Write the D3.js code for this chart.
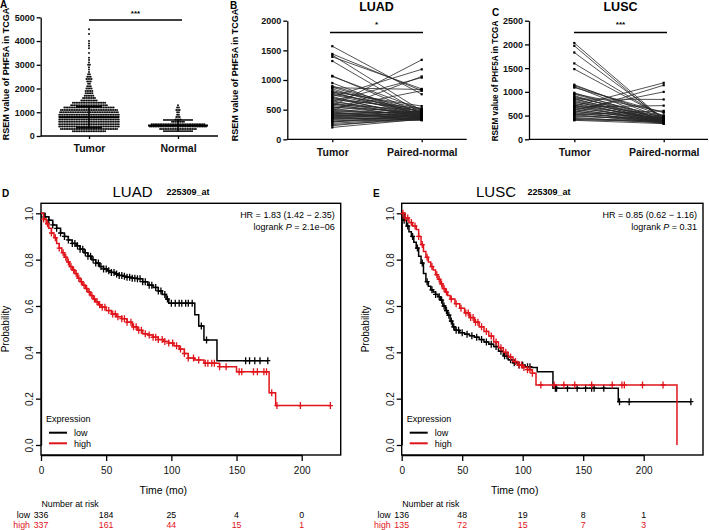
<!DOCTYPE html>
<html><head><meta charset="utf-8">
<script src="https://cdn.jsdelivr.net/npm/d3@7"></script>
<style>body{margin:0;background:#fff}svg{display:block}</style>
</head><body>
<svg id="c" width="709" height="530"></svg>
<script>
// ---------------- DATA ----------------
const groupsA = ["Tumor", "Normal"];
const groupsPaired = ["Tumor", "Paired-normal"];
const ticksA = [0, 1000, 2000, 3000, 4000, 5000];
const ticksB = [0, 500, 1000, 1500, 2000];
const ticksC = [0, 500, 1000, 1500, 2000, 2500];

// Panel A: dot-plot rows (value bin, number of dots in that row)
const tumorBinValues = [200,300,400,500,600,700,800,900,1000,1100,1200,1300,1400,1500,1600,1700,1800,1900,2000,2100,2200,2300,2400,2500,2600,2700,2800,2900,3000,3100,3200,3300,3500,3700,3800,3900,4000,4300,4500];
const tumorBinCounts = [20,34,36,36,36,36,36,36,35,34,30,22,20,10,8,6,5,5,4,3,2,3,4,3,2,1,1,1,2,1,1,1,1,1,1,1,1,1,1];
const normalBinValues = [300,400,500,600,700,800,900,1000,1100,1200,1300];
const normalBinCounts = [22,34,32,8,4,3,2,2,3,2,1];
const tumorMean = 790, tumorSD = 445;
const normalMean = 440, normalSD = 235;

// Panel B: LUAD paired samples [tumor, paired-normal]
const luadPairs = [
 [1570,760],[1440,820],[1420,480],[1390,850],[1320,440],[1070,430],[1060,500],[950,380],
 [560,1340],[720,1180],[480,1060],[640,1040],[870,840],[520,820],[800,560],[760,500],
 [900,450],[880,420],[850,400],[820,520],[800,380],[780,460],[750,430],[720,350],[700,480],
 [690,400],[670,520],[650,370],[630,450],[610,410],[600,340],[590,490],[570,430],[550,390],
 [540,460],[520,350],[500,420],[490,380],[470,440],[460,330],[450,400],[440,360],[430,470],
 [420,390],[410,340],[400,420],[390,370],[380,450],[370,330],[360,400],[350,350],[340,380],
 [330,320],[310,360],[300,340],[290,410],[270,350],[250,330],[230,370],[200,340]
];
// Panel C: LUSC paired samples [tumor, paired-normal]
const luscPairs = [
 [2030,410],[1970,380],[1830,430],[1600,460],[1480,470],[1150,440],[1130,500],[1110,380],[1090,560],
 [700,1190],[560,1140],[620,1000],[850,840],[680,710],[520,600],[960,580],
 [980,400],[950,450],[920,370],[900,420],[880,500],[860,360],[840,440],[820,400],[800,350],
 [780,480],[760,390],[740,420],[720,340],[700,460],[680,380],[660,430],[640,360],[620,400],
 [600,330],[580,450],[560,370],[540,410],[520,350],[500,390],[480,430],[460,340],[440,380],
 [420,360],[410,400],[400,330]
];

// KM panels
const kmTicksX = [0, 50, 100, 150, 200];
const kmTicksY = [0, 0.2, 0.4, 0.6, 0.8, 1.0];
// LUAD low  [time, survival]
const luadLow = [[0,1],[3,0.985],[6,0.97],[9,0.95],[12,0.935],[15,0.915],[18,0.9],[21,0.885],[24,0.87],[27,0.86],[30,0.845],[33,0.83],[36,0.815],[39,0.8],[42,0.785],[45,0.77],[48,0.76],[51,0.752],[54,0.745],[57,0.738],[60,0.732],[63,0.728],[66,0.724],[70,0.72],[74,0.718],[78,0.705],[82,0.69],[86,0.68],[90,0.665],[93,0.65],[96,0.63],[98,0.612],[118,0.562],[121,0.514],[125,0.453],[135,0.364],[174,0.364]];
const luadLowCens = [3,6,9,12,15,18,21,24,26,28,30,32,34,36,38,40,42,44,46,48,50,52,54,56,58,60,62,64,66,68,70,72,74,76,78,80,83,85,88,90,92,95,97,100,103,106,108,111,113,116,123,127,157,160,164,168,174];
const luadHigh = [[0,1],[2,0.975],[4,0.955],[6,0.935],[8,0.915],[10,0.895],[12,0.87],[14,0.85],[16,0.83],[18,0.81],[20,0.79],[22,0.77],[24,0.755],[26,0.74],[28,0.72],[30,0.705],[32,0.69],[34,0.675],[36,0.66],[38,0.645],[40,0.63],[42,0.618],[44,0.605],[46,0.595],[50,0.58],[54,0.565],[58,0.554],[62,0.545],[66,0.53],[70,0.51],[74,0.495],[78,0.48],[82,0.475],[86,0.465],[90,0.455],[94,0.447],[98,0.44],[102,0.428],[106,0.414],[110,0.395],[113,0.375],[118,0.367],[125,0.353],[137,0.338],[150,0.316],[175,0.226],[180,0.17],[222,0.17]];
const luadHighCens = [2,5,8,11,14,17,19,21,23,25,27,29,31,33,35,37,39,41,43,45,47,49,52,55,57,59,62,64,66,69,71,73,75,77,80,83,86,88,90,93,95,98,101,104,107,110,113,117,121,126,128,131,133,137,142,152,154,163,166,171,173,177,181,199,222];
const luadRiskLow = [336,184,25,4,0];
const luadRiskHigh = [337,161,44,15,1];

// LUSC
const luscLow = [[0,1],[2,0.97],[4,0.945],[6,0.92],[8,0.9],[10,0.875],[12,0.85],[14,0.815],[16,0.785],[18,0.74],[20,0.705],[22,0.685],[24,0.67],[26,0.66],[28,0.65],[30,0.64],[32,0.625],[34,0.6],[36,0.58],[38,0.56],[40,0.535],[42,0.51],[44,0.495],[48,0.485],[52,0.478],[56,0.472],[60,0.465],[64,0.455],[68,0.445],[72,0.435],[76,0.425],[80,0.405],[84,0.385],[88,0.368],[92,0.355],[96,0.345],[102,0.338],[107,0.335],[112,0.316],[125,0.245],[179,0.187],[239,0.187]];
const luscLowCens = [2,5,9,13,17,21,25,28,31,33,35,37,39,41,43,45,47,50,54,58,62,66,70,74,78,82,85,87,90,93,97,100,104,106,127,128,137,145,152,157,159,167,180,188,239];
const luscHigh = [[0,1],[3,0.98],[6,0.96],[9,0.945],[12,0.93],[14,0.9],[16,0.865],[18,0.835],[20,0.81],[22,0.79],[24,0.77],[26,0.755],[28,0.735],[30,0.715],[32,0.695],[34,0.675],[36,0.66],[38,0.645],[40,0.63],[44,0.61],[48,0.59],[52,0.57],[56,0.55],[60,0.53],[64,0.51],[68,0.49],[72,0.47],[76,0.445],[80,0.42],[84,0.4],[88,0.38],[92,0.36],[96,0.345],[100,0.335],[104,0.325],[108,0.31],[111,0.259],[227.5,0]];
const luscHighCens = [1,3,5,8,11,14,17,21,25,29,31,33,35,37,41,45,49,53,55,57,59,61,63,66,70,74,78,82,86,90,94,97,99,101,104,106,108,115,126,134,143,157,174,182,184,199,216];
const luscRiskLow = [136,48,19,8,1];
const luscRiskHigh = [135,72,15,7,3];

// ---------------- DRAWING ----------------
const FONT = "'Liberation Sans', Arial, Helvetica, sans-serif";
const RED = "#e0141b";
const svg = d3.select("#c").style("font-family", FONT);

function letter(t, x, y) {
  svg.append("text").attr("x", x).attr("y", y).text(t)
    .attr("font-size", 10).attr("font-weight", "bold");
}

function styleBoldAxis(g, fs) {
  g.select(".domain").attr("stroke", "#000").attr("stroke-width", 1.3);
  g.selectAll(".tick line").attr("stroke", "#000").attr("stroke-width", 1.3);
  g.selectAll(".tick text").attr("font-size", fs).attr("font-weight", "bold")
    .attr("font-family", FONT).attr("fill", "#111");
}

function catAxis(xScale, x0, x1, yBase, labelY) {
  svg.append("line").attr("x1", x0).attr("x2", x1).attr("y1", yBase).attr("y2", yBase)
    .attr("stroke", "#000").attr("stroke-width", 1.3);
  const g = svg.append("g").attr("transform", `translate(0,${yBase})`)
    .call(d3.axisBottom(xScale).tickSize(3).tickSizeOuter(0));
  g.select(".domain").remove();
  styleBoldAxis(g, 10.5);
  g.selectAll(".tick text").attr("y", labelY - yBase).attr("dy", 0);
}

function ylabelBold(x, y, fs) {
  svg.append("text").attr("transform", `translate(${x},${y}) rotate(-90)`)
    .attr("text-anchor", "middle").attr("font-size", fs).attr("font-weight", "bold")
    .text("RSEM value of PHF5A in TCGA");
}

function sig(x0, x1, y, stars, sy) {
  svg.append("line").attr("x1", x0).attr("x2", x1).attr("y1", y).attr("y2", y)
    .attr("stroke", "#000").attr("stroke-width", 1.4);
  svg.append("text").attr("x", (x0 + x1) / 2).attr("y", sy).attr("text-anchor", "middle")
    .attr("font-size", 8).attr("font-weight", "bold").text(stars);
}

// ---- Panel A ----
{
  const y = d3.scaleLinear().domain([0, 5000]).range([136, 17.3]);
  const x = d3.scalePoint().domain(groupsA).range([89, 178]);
  const ga = svg.append("g").attr("transform", "translate(40.7,0)")
    .call(d3.axisLeft(y).tickValues(ticksA).tickSize(4).tickSizeOuter(0).tickPadding(2).tickFormat(d3.format("d")));
  styleBoldAxis(ga, 9);
  catAxis(x, 40.7, 218, 136, 152);
  const dots = svg.append("g").attr("fill", "#111");
  function swarm(cx, vals, counts) {
    vals.forEach((v, i) => {
      const n = counts[i];
      for (let k = 0; k < n; k++) {
        dots.append("circle").attr("cx", cx + (k - (n - 1) / 2) * 1.7).attr("cy", y(v)).attr("r", 1.0);
      }
    });
  }
  swarm(x("Tumor"), tumorBinValues, tumorBinCounts);
  swarm(x("Normal"), normalBinValues, normalBinCounts);
  function meanSD(cx, m, sd, mw, cw) {
    const g = svg.append("g").attr("stroke", "#000");
    g.append("line").attr("x1", cx - mw).attr("x2", cx + mw).attr("y1", y(m)).attr("y2", y(m)).attr("stroke-width", 2);
    g.append("line").attr("x1", cx).attr("x2", cx).attr("y1", y(m - sd)).attr("y2", y(m + sd)).attr("stroke-width", 1.5);
    [m - sd, m + sd].forEach(v => g.append("line").attr("x1", cx - cw).attr("x2", cx + cw)
      .attr("y1", y(v)).attr("y2", y(v)).attr("stroke-width", 1.5));
  }
  meanSD(x("Tumor"), tumorMean, tumorSD, 30, 13);
  meanSD(x("Normal"), normalMean, normalSD, 30, 15);
  sig(89, 182, 20, "***", 16);
  ylabelBold(8.5, 74, 9);
  letter("A", 0, 8);
}

// ---- Paired panels ----
function pairedPanel(pairs, domMax, ticks, axisX, xEnd, xT, xN, title, stars, sigX0, sigX1, ylx, yly, ylfs, let, letX, letY) {
  const y = d3.scaleLinear().domain([0, domMax]).range([139.3, 20.7]);
  const x = d3.scalePoint().domain(groupsPaired).range([xT, xN]);
  const ga = svg.append("g").attr("transform", `translate(${axisX},0)`)
    .call(d3.axisLeft(y).tickValues(ticks).tickSize(4).tickSizeOuter(0).tickPadding(2).tickFormat(d3.format("d")));
  styleBoldAxis(ga, 9);
  catAxis(x, axisX, xEnd, 139.3, 156);
  const g = svg.append("g");
  g.selectAll("line.p").data(pairs).join("line")
    .attr("x1", x("Tumor")).attr("x2", x("Paired-normal"))
    .attr("y1", d => y(d[0])).attr("y2", d => y(d[1]))
    .attr("stroke", "#262626").attr("stroke-width", 0.8);
  const pts = svg.append("g").attr("fill", "#000");
  pairs.forEach(d => {
    pts.append("rect").attr("x", x("Tumor") - 1.1).attr("y", y(d[0]) - 1.1).attr("width", 2.2).attr("height", 2.2);
    pts.append("rect").attr("x", x("Paired-normal") - 1.1).attr("y", y(d[1]) - 1.1).attr("width", 2.2).attr("height", 2.2);
  });
  sig(sigX0, sigX1, 32.5, stars, 27);
  svg.append("text").attr("x", (sigX0 + sigX1) / 2).attr("y", 10.5).attr("text-anchor", "middle")
    .attr("font-size", 12.5).attr("font-weight", "bold").text(title);
  ylabelBold(ylx, yly, ylfs);
  letter(let, letX, letY);
}
pairedPanel(luadPairs, 2000, ticksB, 287.3, 466.7, 332.3, 421.7, "LUAD", "*", 330, 423, 237.5, 75, 9, "B", 230, 8.5);
pairedPanel(luscPairs, 2500, ticksC, 529, 708, 574.3, 663.7, "LUSC", "***", 574, 667, 497.5, 81, 8.2, "C", 492, 16);

// ---- KM panels ----
function kmPanel(opt) {
  const x = d3.scaleLinear().domain([0, 200]).range([opt.x0, opt.x200]);
  const y = d3.scaleLinear().domain([0, 1]).range([445, 213.3]);
  const top = 203.3, bottom = 455;
  svg.append("rect").attr("x", opt.x0).attr("y", top).attr("width", opt.right - opt.x0).attr("height", bottom - top)
    .attr("fill", "none").attr("stroke", "#000").attr("stroke-width", 1.4);
  const gx = svg.append("g").attr("transform", `translate(0,${bottom})`)
    .call(d3.axisBottom(x).tickValues(kmTicksX).tickSize(6).tickSizeOuter(0));
  gx.select(".domain").attr("stroke-width", 1.3);
  gx.selectAll(".tick line").attr("stroke-width", 1.3);
  gx.selectAll(".tick text").attr("y", 19).attr("dy", 0).attr("font-size", 10).attr("font-family", FONT).attr("fill", "#111");
  const gy = svg.append("g").attr("transform", `translate(${opt.x0},0)`)
    .call(d3.axisLeft(y).tickValues(kmTicksY).tickSize(5).tickSizeOuter(0).tickFormat(d3.format(".1f")));
  gy.select(".domain").attr("stroke-width", 1.3);
  gy.selectAll(".tick line").attr("stroke-width", 1.3);
  gy.selectAll(".tick text").attr("x", null).attr("dy", null).attr("text-anchor", "middle")
    .attr("transform", "translate(-8,0) rotate(-90)").attr("font-size", 10).attr("font-family", FONT).attr("fill", "#111");
  svg.append("text").attr("transform", `translate(${opt.x0 - 32.5},329) rotate(-90)`).attr("text-anchor", "middle")
    .attr("font-size", 10).text("Probability");
  svg.append("text").attr("x", (opt.x0 + opt.x200) / 2 - 8).attr("y", 494).attr("text-anchor", "middle")
    .attr("font-size", 10.5).text("Time (mo)");
  // title
  svg.append("text").attr("x", opt.titleX).attr("y", 196.5).attr("text-anchor", "middle").attr("font-size", 15).text(opt.title);
  svg.append("text").attr("x", opt.probeX).attr("y", 195).attr("font-size", 9).attr("font-weight", "bold").text("225309_at");
  letter(opt.letter, opt.letterX, 197);
  // HR text
  const hr = svg.append("text").attr("x", opt.right - 6).attr("y", 218).attr("text-anchor", "end").attr("font-size", 9);
  hr.text(opt.hr);
  const lr = svg.append("text").attr("x", opt.right - 6).attr("y", 229.5).attr("text-anchor", "end").attr("font-size", 9);
  lr.append("tspan").text("logrank ");
  lr.append("tspan").attr("font-style", "italic").text("P");
  lr.append("tspan").text(" = " + opt.p);
  // curves
  const line = d3.line().x(d => x(d[0])).y(d => y(d[1])).curve(d3.curveStepAfter);
  function surv(pts, t) { let s = pts[0][1]; for (const p of pts) { if (p[0] <= t) s = p[1]; else break; } return s; }
  function curve(pts, cens, color) {
    const g = svg.append("g");
    g.append("path").attr("d", line(pts)).attr("fill", "none").attr("stroke", color).attr("stroke-width", 1.5);
    g.selectAll("path.c").data(cens).join("path")
      .attr("d", t => { const cx = x(t), cy = y(surv(pts, t)); return `M${cx},${cy - 3.5}V${cy + 3.5}M${cx - 2.5},${cy}H${cx + 2.5}`; })
      .attr("stroke", color).attr("stroke-width", 1.3).attr("fill", "none");
  }
  curve(opt.low, opt.lowC, "#000");
  curve(opt.high, opt.highC, RED);
  // legend
  const lx = opt.x0 + 5;
  svg.append("text").attr("x", lx).attr("y", 422).attr("font-size", 9).text("Expression");
  [["low", "#000", 432.7], ["high", RED, 443.3]].forEach(([lab, c, yy]) => {
    svg.append("line").attr("x1", lx + 3).attr("x2", lx + 21).attr("y1", yy).attr("y2", yy).attr("stroke", c).attr("stroke-width", 2);
    svg.append("text").attr("x", lx + 28).attr("y", yy + 3.3).attr("font-size", 9).text(lab);
  });
  // number at risk
  svg.append("text").attr("x", opt.x0 + 0.5).attr("y", 507).attr("font-size", 8.8).text("Number at risk");
  [["low", opt.riskLow, "#000", 517.5], ["high", opt.riskHigh, RED, 528]].forEach(([lab, vals, c, yy]) => {
    svg.append("text").attr("x", opt.x0 - 11).attr("y", yy).attr("text-anchor", "end").attr("font-size", 8.8).attr("fill", c).text(lab);
    vals.forEach((v, i) => svg.append("text").attr("x", x(kmTicksX[i])).attr("y", yy).attr("text-anchor", "middle")
      .attr("font-size", 8.8).attr("fill", c).text(v));
  });
}

kmPanel({ x0: 41, x200: 301.7, right: 340.7, title: "LUAD", titleX: 132.5, probeX: 166.5, letter: "D", letterX: 2,
  hr: "HR = 1.83 (1.42 \u2212 2.35)", p: "2.1e\u221206",
  low: luadLow, lowC: luadLowCens, high: luadHigh, highC: luadHighCens, riskLow: luadRiskLow, riskHigh: luadRiskHigh });
kmPanel({ x0: 401.7, x200: 643.7, right: 703, title: "LUSC", titleX: 496, probeX: 527.5, letter: "E", letterX: 373,
  hr: "HR = 0.85 (0.62 \u2212 1.16)", p: "0.31",
  low: luscLow, lowC: luscLowCens, high: luscHigh, highC: luscHighCens, riskLow: luscRiskLow, riskHigh: luscRiskHigh });
</script>
</body></html>
